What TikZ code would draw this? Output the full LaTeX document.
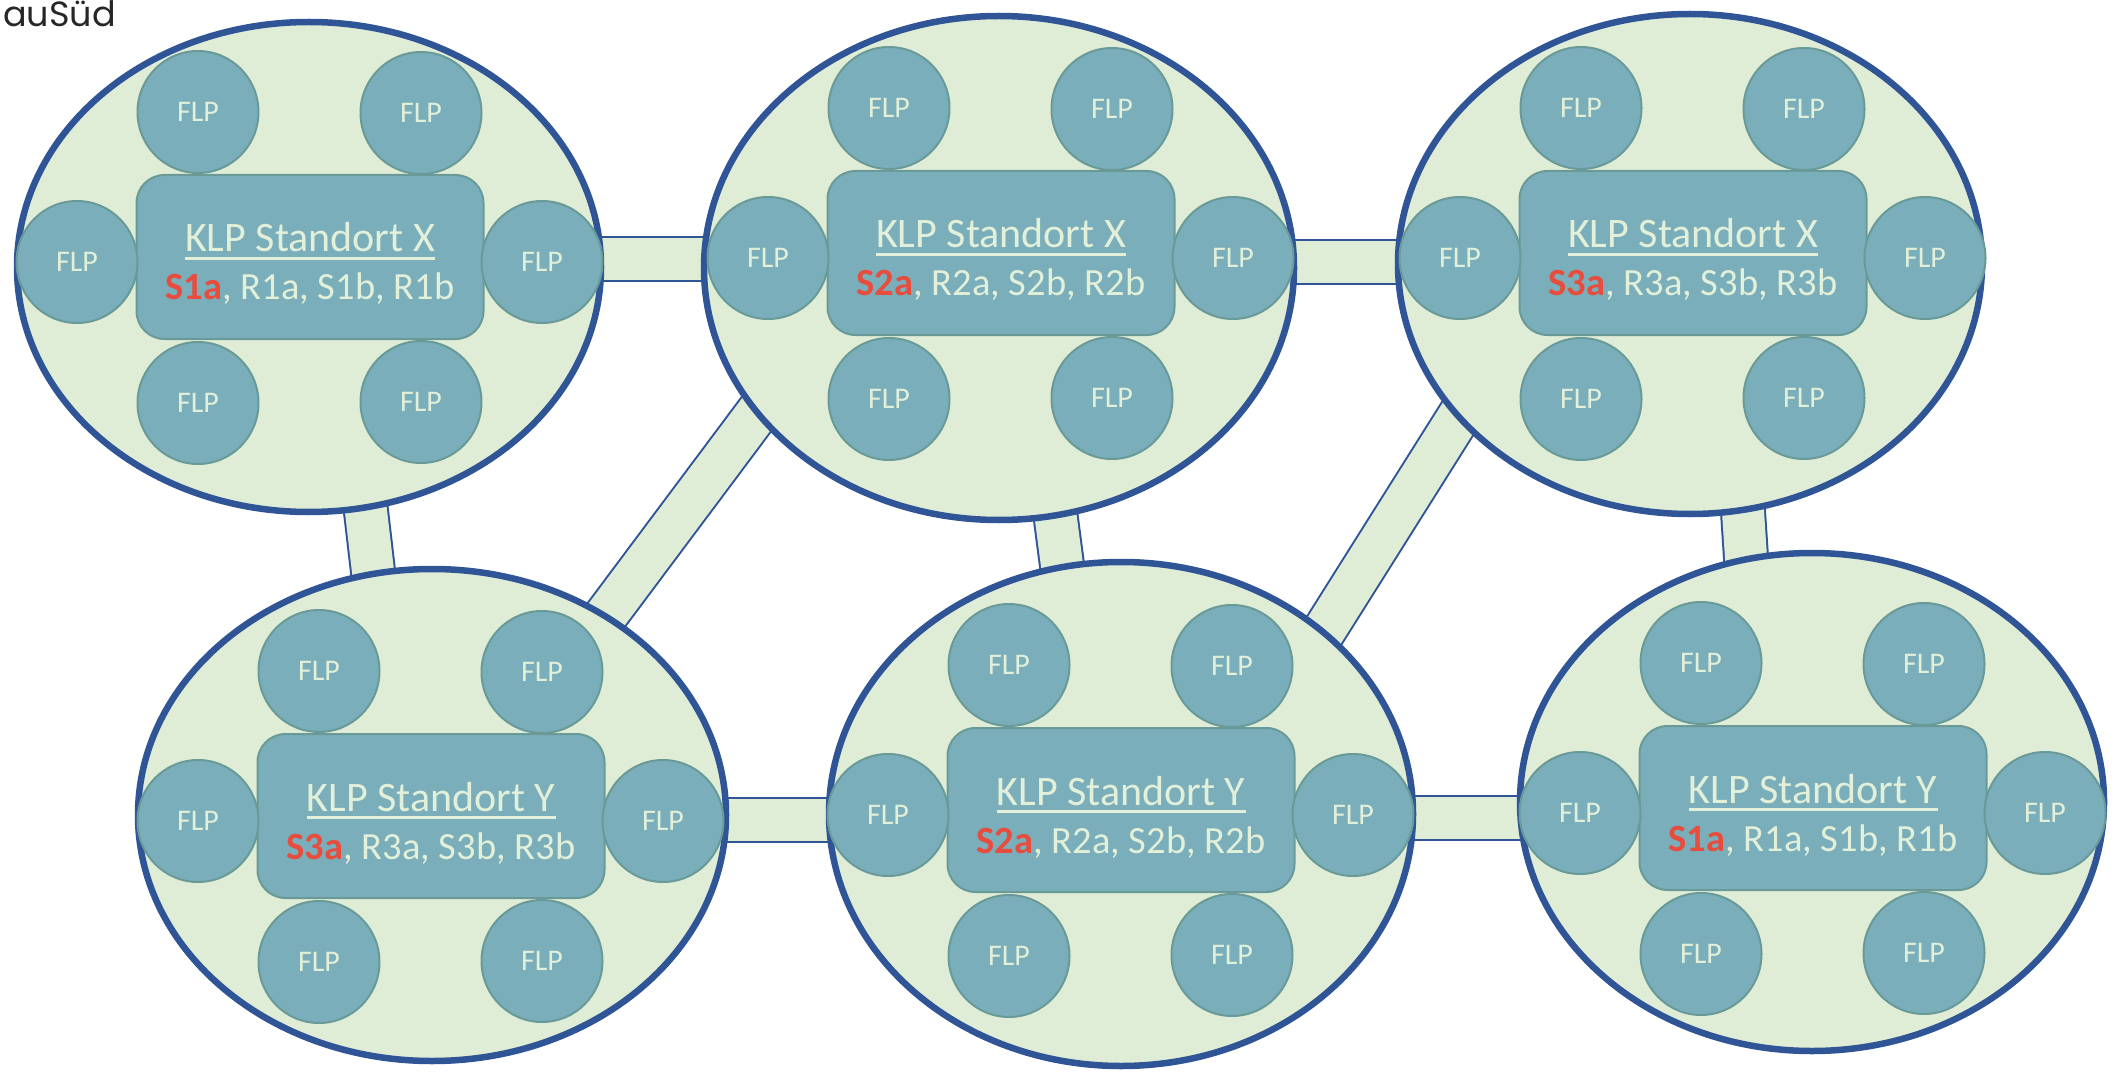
\documentclass[tikz,border=0pt]{standalone}
\usepackage{fontspec}
\setmainfont{Carlito}
\newfontfamily\headfont{Poppins}
\usetikzlibrary{shapes.geometric}
\definecolor{ellline}{HTML}{2F5597}
\definecolor{ellfill}{HTML}{E0EDD6}
\definecolor{flpfill}{HTML}{79AEBA}
\definecolor{flpline}{HTML}{6A9A98}
\definecolor{txtcol}{HTML}{E2EFD9}
\definecolor{redtxt}{HTML}{E84C3D}
\tikzset{
 site/.style={ellipse, draw=ellline, fill=ellfill, line width=6.5pt, inner sep=0pt},
 flp/.style={ellipse, draw=flpline, fill=flpfill, line width=2pt, minimum width=121pt, minimum height=122pt, inner sep=0pt, text=txtcol, font=\fontsize{30}{36}\selectfont},
 klp/.style={rectangle, rounded corners=28pt, draw=flpline, fill=flpfill, line width=2pt, minimum width=347pt, minimum height=164pt, inner sep=0pt},
 titletxt/.style={anchor=base, inner sep=0pt, text=txtcol, font=\fontsize{42}{50}\selectfont},
 codetxt/.style={anchor=base, inner sep=0pt, text=txtcol, font=\fontsize{38.5}{46}\selectfont},
 bar/.style={draw=ellline, line width=2pt, double=ellfill, double distance=42pt},
}
\newcommand\KLPgroup[9]{%
  \node[site, minimum width=#6pt, minimum height=#7pt] (#1) at (#4,#5) {};
  \begin{scope}[shift={(#2,#3)}]
    \node[klp] (#1k) at (0,0) {};
    \node[flp] (#1f1) at (-112,-145) {FLP};
    \node[flp] (#1f2) at (111,-144) {FLP};
    \node[flp] (#1f3) at (-233,5) {FLP};
    \node[flp] (#1f4) at (232,5) {FLP};
    \node[flp] (#1f5) at (-112,146) {FLP};
    \node[flp] (#1f6) at (111,145) {FLP};
    \node[titletxt] (#1t) at (0,-5) {KLP Standort #8};
    \draw[txtcol, line width=2.5pt] ([yshift=-6.5pt]#1t.base west) -- ([yshift=-6.5pt]#1t.base east);
    \node[codetxt] (#1c) at (0,43) {{\bfseries\color{redtxt}S#9a}, R#9a, S#9b, R#9b};
  \end{scope}
}
\begin{document}
\begin{tikzpicture}[x=1pt, y=-1pt]
\useasboundingbox (0,0) rectangle (2123,1075);
% bar end points
\coordinate (b12a) at (309,259); \coordinate (b12b) at (999,259);
\coordinate (b23a) at (999,262); \coordinate (b23b) at (1690,262);
\coordinate (b45a) at (432,820); \coordinate (b45b) at (1121,820);
\coordinate (b56a) at (1121,818); \coordinate (b56b) at (1812,818);
\coordinate (b14a) at (353,400); \coordinate (b14b) at (388,700);
\coordinate (b25a) at (1043,420); \coordinate (b25b) at (1077,680);
\coordinate (b36a) at (1737,420); \coordinate (b36b) at (1754,680);
\coordinate (b42a) at (518,733); \coordinate (b42b) at (844,297);
\coordinate (b53a) at (1249,750); \coordinate (b53b) at (1536,294);
\foreach \p in {12,23,45,56,14,25,36,42,53}{
  \draw[bar] (b\p a) -- (b\p b);
}
\KLPgroup{ga}{310}{257}{309}{267}{584}{490}{X}{1}
\KLPgroup{gb}{1001}{253}{999}{268}{590}{504}{X}{2}
\KLPgroup{gc}{1693}{253}{1690}{264}{584}{500}{X}{3}
\KLPgroup{gd}{431}{816}{432}{815}{588}{492}{Y}{3}
\KLPgroup{ge}{1121}{810}{1121}{814}{584}{504}{Y}{2}
\KLPgroup{gf}{1813}{808}{1812}{802}{584}{498}{Y}{1}
\node[anchor=base west, inner sep=0pt, text=black!85, font=\headfont\fontsize{35}{40}\selectfont] (hdr) at (3,27) {auSüd};
\end{tikzpicture}
\end{document}
